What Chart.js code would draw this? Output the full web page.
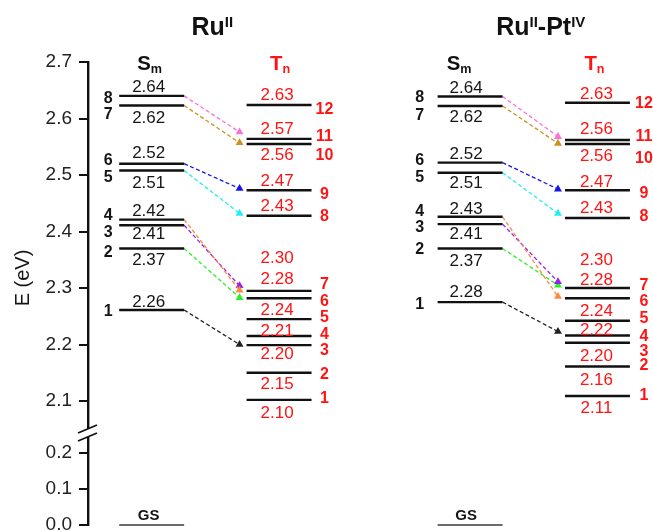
<!DOCTYPE html>
<html>
<head>
<meta charset="utf-8">
<script src="https://cdn.jsdelivr.net/npm/chart.js@4.4.1/dist/chart.umd.min.js"></script>
<style>
  html, body { margin: 0; padding: 0; background: #fff; }
  #wrap { width: 653px; height: 531px; }
</style>
</head>
<body>
<div id="wrap"><canvas id="chart"></canvas></div>
<script>
// level energies (eV), state 1 upwards
const smRu = [2.261, 2.370, 2.411, 2.421, 2.508, 2.520, 2.623, 2.640];
const smRuText = ['2.26', '2.37', '2.41', '2.42', '2.51', '2.52', '2.62', '2.64'];
const tnRu = [2.102, 2.150, 2.199, 2.215, 2.245, 2.282, 2.295, 2.428, 2.473, 2.555, 2.564, 2.624];
const tnRuText = ['2.10', '2.15', '2.20', '2.21', '2.24', '2.28', '2.30', '2.43', '2.47', '2.56', '2.57', '2.63'];

const smRuPt = [2.275, 2.370, 2.413, 2.426, 2.504, 2.522, 2.622, 2.639];
const smRuPtText = ['2.28', '2.37', '2.41', '2.43', '2.51', '2.52', '2.62', '2.64'];
const tnRuPt = [2.109, 2.161, 2.203, 2.216, 2.242, 2.282, 2.300, 2.424, 2.473, 2.555, 2.562, 2.628];
const tnRuPtText = ['2.11', '2.16', '2.20', '2.22', '2.24', '2.28', '2.30', '2.43', '2.47', '2.56', '2.56', '2.63'];

const groundState = 0.0;

// S -> T crossings [S state, T state]
const arrowsRu = [[8, 11], [7, 10], [6, 9], [5, 8], [4, 7], [3, 7], [2, 6], [1, 3]];
const arrowsRuPt = [[8, 11], [7, 10], [6, 9], [5, 8], [4, 6], [3, 7], [2, 7], [1, 4]];
const arrowColors = ['#ff6fd8', '#c8931e', '#1414f0', '#22eef2', '#ff8a3d', '#9a1ff0', '#2cef2c', '#222222'];

const ticksTop = [2.1, 2.2, 2.3, 2.4, 2.5, 2.6, 2.7];
const ticksLow = [0.0, 0.1, 0.2];

// ---- layout (not data) ----
const HALF = 0.255;        // half length of a level line, x units
const ARROW_GAP = 0.055;   // arrow stops short of the T line
const FONT = '"Liberation Sans", Arial, sans-serif';

const panels = [
  {
    title: [['Ru', ''], ['II', 'sup']], titleDx: -3,
    sx: 0, tx: 1,
    sm: smRu, smText: smRuText, tn: tnRu, tnText: tnRuText, arrows: arrowsRu,
    arrowLift: [0.012, 0.002, 0.003, 0.004, 0.001, 0.009, 0.001, 0.001],
    smDy: [-9, 10, 8, -10, 11, -12, 11, -10],
    smNumDy: [0, 3, 6, -5, 6, -4, 8, 1],
    tnDy: [12, 10, 8, -6, -10, -20, -34, -11, -10, 10, -11, -11],
    tnNumDy: [-3, 0, 4, -3, -3, 2, -8, 0, 3, 10, -4, 3],
    smTextDx: -3, tnTextDx: -2, smNumDx: -11, tnNumDx: 13, smHeadDx: -2, tnHeadDx: 1, gsDx: -3
  },
  {
    title: [['Ru', ''], ['II', 'sup'], ['-Pt', ''], ['IV', 'sup']], titleDx: 7,
    sx: 2.5, tx: 3.5,
    sm: smRuPt, smText: smRuPtText, tn: tnRuPt, tnText: tnRuPtText, arrows: arrowsRuPt,
    arrowLift: [0.006, 0.001, 0.002, 0.008, 0.003, 0.011, 0.005, 0.007],
    smDy: [-11, 11, 9, -9, 9, -10, 10, -10],
    smNumDy: [1, 0, 2, -7, 3, -3, 8, 0],
    tnDy: [11, 12, 12, -7, -11, -19, -29, -11, -9, 11, -12, -10],
    tnNumDy: [-2, -2, 7, 0, -4, 2, -4, -3, 2, 13, -5, 0],
    smTextDx: -4, tnTextDx: -1, smNumDx: -18, tnNumDx: 14, smHeadDx: -11, tnHeadDx: -3, gsDx: -4
  }
];

function levelPoints(center, energies) {
  const pts = [];
  energies.forEach(e => {
    pts.push({ x: center - HALF, y: e }, { x: center + HALF, y: e }, { x: center + HALF, y: null });
  });
  return pts;
}

const datasets = [];
panels.forEach(p => {
  datasets.push({
    data: levelPoints(p.sx, p.sm), yAxisID: 'yTop',
    borderColor: '#111', borderWidth: 2.4, pointRadius: 0, spanGaps: false, clip: false
  });
  datasets.push({
    data: levelPoints(p.tx, p.tn), yAxisID: 'yTop',
    borderColor: '#111', borderWidth: 2.4, pointRadius: 0, spanGaps: false, clip: false
  });
  datasets.push({
    data: levelPoints(p.sx, [groundState]), yAxisID: 'yLow',
    borderColor: '#6b6b6b', borderWidth: 2, pointRadius: 0, clip: false
  });
  p.arrows.forEach(([s, t], i) => {
    datasets.push({
      data: [
        { x: p.sx + HALF, y: p.sm[s - 1] },
        { x: p.tx - HALF - ARROW_GAP, y: p.tn[t - 1] + p.arrowLift[i] }
      ],
      yAxisID: 'yTop',
      borderColor: arrowColors[i], borderWidth: 1.3, borderDash: [4, 2.5],
      pointRadius: [0, 4.6], pointStyle: 'triangle',
      pointBackgroundColor: arrowColors[i], pointBorderColor: arrowColors[i], pointBorderWidth: 0,
      clip: false
    });
  });
});

function drawRich(ctx, parts, cx, baseline, size, color, squeeze) {
  ctx.save();
  ctx.fillStyle = color;
  ctx.textAlign = 'left';
  ctx.textBaseline = 'alphabetic';
  const fontOf = kind => 'bold ' + (kind ? Math.round(size * 0.6) : size) + 'px ' + FONT;
  let total = 0;
  const widths = parts.map(([t, kind]) => {
    ctx.font = fontOf(kind);
    const w = ctx.measureText(t).width;
    total += w;
    return w;
  });
  ctx.translate(cx, baseline);
  ctx.scale(squeeze, 1);
  let x = -total / 2;
  parts.forEach(([t, kind], i) => {
    ctx.font = fontOf(kind);
    const dy = kind === 'sup' ? -size * 0.33 : kind === 'sub' ? size * 0.12 : 0;
    ctx.fillText(t, x, dy);
    x += widths[i];
  });
  ctx.restore();
}

function text(ctx, str, x, yCenter, size, color, bold, align) {
  ctx.font = (bold ? 'bold ' : '') + size + 'px ' + FONT;
  ctx.fillStyle = color;
  ctx.textAlign = align || 'center';
  ctx.textBaseline = 'alphabetic';
  ctx.fillText(str, x, yCenter + size * 0.36);
}

const labelsPlugin = {
  id: 'levelLabels',
  afterDraw(chart) {
    const { ctx, scales, chartArea } = chart;
    const xs = scales.x, yt = scales.yTop, yl = scales.yLow;
    const red = '#ff1414', ink = '#151515';

    // axis break
    const ax = chartArea.left, b = yt.bottom;
    ctx.save();
    ctx.fillStyle = '#fff';
    ctx.fillRect(ax - 4, b - 4, 8, 8);
    ctx.strokeStyle = '#111';
    ctx.lineWidth = 1.8;
    ctx.beginPath();
    ctx.moveTo(ax - 10, b); ctx.lineTo(ax + 9, b - 8);
    ctx.moveTo(ax - 10, b + 8); ctx.lineTo(ax + 9, b);
    ctx.stroke();
    ctx.restore();

    // y title
    ctx.save();
    ctx.translate(23, 278);
    ctx.rotate(-Math.PI / 2);
    ctx.font = '20px ' + FONT;
    ctx.fillStyle = ink;
    ctx.textAlign = 'center';
    ctx.textBaseline = 'middle';
    ctx.fillText('E (eV)', 0, 0);
    ctx.restore();

    panels.forEach(p => {
      const sC = xs.getPixelForValue(p.sx), tC = xs.getPixelForValue(p.tx);
      const sL = xs.getPixelForValue(p.sx - HALF), tR = xs.getPixelForValue(p.tx + HALF);

      drawRich(ctx, p.title, (sC + tC) / 2 + p.titleDx, 35, 25, '#111', 1);
      drawRich(ctx, [['S', ''], ['m', 'sub']], sC + p.smHeadDx, 70, 21, '#111', 0.97);
      drawRich(ctx, [['T', ''], ['n', 'sub']], tC + p.tnHeadDx, 70, 21, red, 0.97);

      p.sm.forEach((e, i) => {
        const y = yt.getPixelForValue(e);
        text(ctx, p.smText[i], sC + p.smTextDx, y + p.smDy[i], 17, ink, false);
        text(ctx, String(i + 1), sL + p.smNumDx, y + p.smNumDy[i], 16, ink, true);
      });
      p.tn.forEach((e, i) => {
        const y = yt.getPixelForValue(e);
        text(ctx, p.tnText[i], tC + p.tnTextDx, y + p.tnDy[i], 17, red, false);
        text(ctx, String(i + 1), tR + p.tnNumDx, y + p.tnNumDy[i], 16, red, true);
      });

      const gy = yl.getPixelForValue(groundState);
      text(ctx, 'GS', sC + p.gsDx, gy - 10, 15, ink, true);
    });
  }
};

const yCommon = {
  type: 'linear',
  position: 'left',
  stack: 'energy',
  offset: false,
  grid: { drawOnChartArea: false, drawTicks: true, tickLength: 9, color: '#111', lineWidth: 2 },
  border: { display: true, color: '#111', width: 2.4 },
  ticks: {
    color: '#222', padding: 7, autoSkip: false,
    font: { family: FONT, size: 19 },
    callback: v => Number(v).toFixed(1)
  },
  // fixed axis width; labels may overhang the plot edges
  afterFit: s => { s.width = 88; s.paddingTop = 0; s.paddingBottom = 0; }
};

new Chart(document.getElementById('chart'), {
  type: 'line',
  data: { datasets },
  options: {
    responsive: true,
    maintainAspectRatio: false,
    animation: false,
    events: [],
    layout: { padding: { top: 62, bottom: 6, left: 0, right: 4 } },
    plugins: { legend: { display: false }, tooltip: { enabled: false } },
    scales: {
      x: { type: 'linear', min: -0.5, max: 3.9, display: false },
      // stacked boxes are laid out bottom-up, so the low segment comes first
      yLow: Object.assign({}, yCommon, {
        min: 0, max: 0.2556, stackWeight: 92,
        afterBuildTicks: s => { s.ticks = ticksLow.map(v => ({ value: v })); }
      }),
      yTop: Object.assign({}, yCommon, {
        min: 2.0434, max: 2.7, stackWeight: 371,
        afterBuildTicks: s => { s.ticks = ticksTop.map(v => ({ value: v })); }
      })
    }
  },
  plugins: [labelsPlugin]
});
</script>
</body>
</html>
